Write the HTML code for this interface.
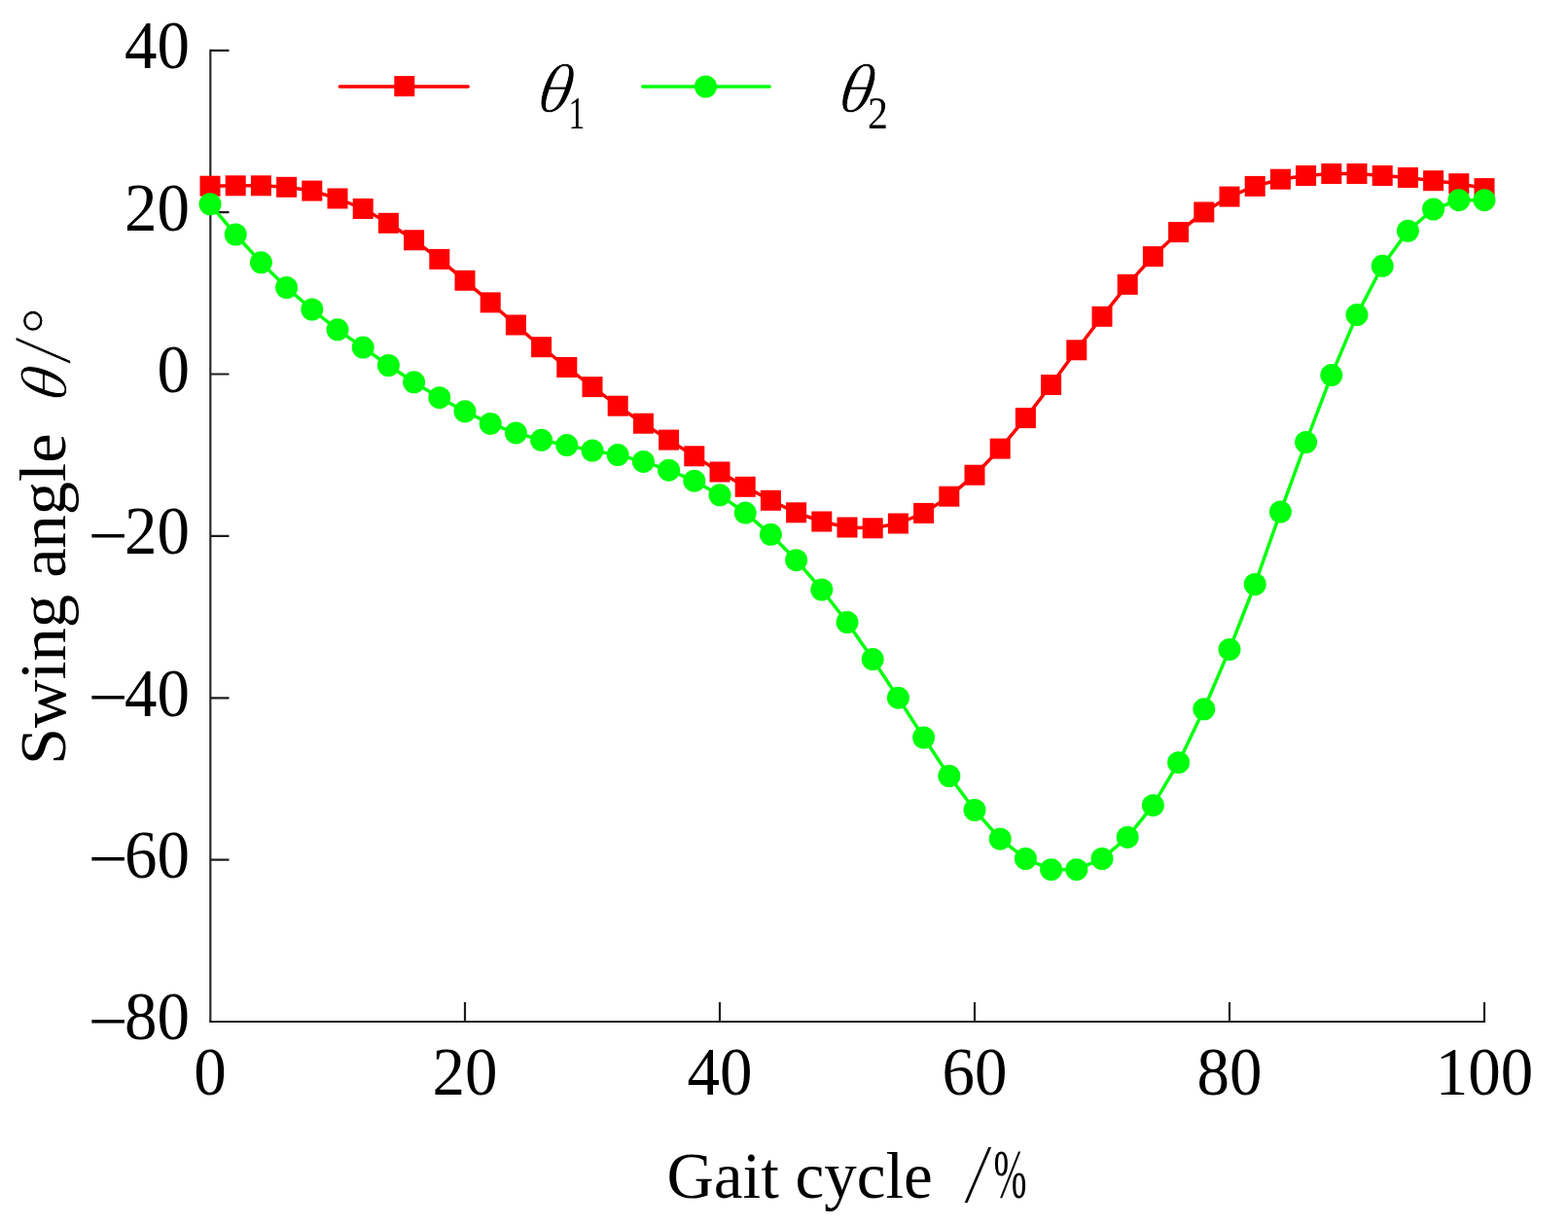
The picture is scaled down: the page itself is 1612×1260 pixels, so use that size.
<!DOCTYPE html><html><head><meta charset="utf-8"><title>Swing angle vs gait cycle</title><style>html,body{margin:0;padding:0;background:#fff;overflow:hidden;}svg{display:block;}text{font-family:"Liberation Serif","Times New Roman",serif;fill:#000;}</style></head><body>
<svg width="1612" height="1260" viewBox="0 0 1612 1260">
<rect width="1612" height="1260" fill="#fff"/>
<g>
<path d="M216.3 50.8V1050" fill="none" stroke="#2a2a2a" stroke-width="2.2"/>
<path d="M215.2 1050H1526V1030" fill="none" stroke="#1e1e1e" stroke-width="2.2" stroke-linejoin="miter"/>
<path d="M216.3 51.8H235.5M216.3 218.2H235.5M216.3 384.5H235.5M216.3 550.9H235.5M216.3 717.3H235.5M216.3 883.6H235.5M478.0 1050V1030M740.0 1050V1030M1002.0 1050V1030M1264.0 1050V1030" stroke="#1e1e1e" stroke-width="2.2" fill="none"/>
<text transform="translate(195 70.1) scale(1 1.035)" font-size="67" text-anchor="end">40</text>
<text transform="translate(195 236.5) scale(1 1.035)" font-size="67" text-anchor="end">20</text>
<text transform="translate(195 402.8) scale(1 1.035)" font-size="67" text-anchor="end">0</text>
<text transform="translate(195 569.2) scale(1 1.035)" font-size="67" text-anchor="end">20</text>
<text transform="translate(90.9 572.5) scale(1.077 1)" font-size="67">−</text>
<text transform="translate(195 735.6) scale(1 1.035)" font-size="67" text-anchor="end">40</text>
<text transform="translate(90.9 738.9) scale(1.077 1)" font-size="67">−</text>
<text transform="translate(195 901.9) scale(1 1.035)" font-size="67" text-anchor="end">60</text>
<text transform="translate(90.9 905.2) scale(1.077 1)" font-size="67">−</text>
<text transform="translate(195 1068.3) scale(1 1.035)" font-size="67" text-anchor="end">80</text>
<text transform="translate(90.9 1071.6) scale(1.077 1)" font-size="67">−</text>
<text transform="translate(216.0 1124.5) scale(1 1.035)" font-size="67" text-anchor="middle">0</text>
<text transform="translate(478.0 1124.5) scale(1 1.035)" font-size="67" text-anchor="middle">20</text>
<text transform="translate(740.0 1124.5) scale(1 1.035)" font-size="67" text-anchor="middle">40</text>
<text transform="translate(1002.0 1124.5) scale(1 1.035)" font-size="67" text-anchor="middle">60</text>
<text transform="translate(1264.0 1124.5) scale(1 1.035)" font-size="67" text-anchor="middle">80</text>
<text transform="translate(1526.0 1124.5) scale(1 1.035)" font-size="67" text-anchor="middle">100</text>
<text x="685.4" y="1231" font-size="67">Gait cycle</text>
<text transform="translate(990.8 1235.6) skewX(-5)" font-size="87.5" stroke="#fff" stroke-width="1.2">/</text>
<text transform="translate(1021.5 1231.2) scale(0.61 1.07)" font-size="67">%</text>
<g transform="translate(67.2 0) rotate(-90)"><text x="-786" y="0" font-size="68.5">Swing angle</text><text transform="translate(-414.1 0.3) skewX(-10) scale(0.98)" font-size="68.5" font-style="italic" stroke="#fff" stroke-width="0.8">θ</text><text transform="translate(-374.4 4.3) skewX(-5)" font-size="85" stroke="#fff" stroke-width="1.2">/</text><text x="-343.6" y="1.5" font-size="68.5" stroke="#fff" stroke-width="0.8">°</text></g>
<polyline points="216.0,191.2 242.2,190.8 268.4,190.8 294.6,192.3 320.8,196.1 347.0,204.0 373.2,214.5 399.4,229.3 425.6,246.8 451.8,266.4 478.0,288.3 504.2,310.9 530.4,334.0 556.6,356.7 582.8,377.5 609.0,397.6 635.2,417.2 661.4,435.2 687.6,452.1 713.8,468.8 740.0,485.0 766.2,500.3 792.4,514.3 818.6,526.8 844.8,536.0 871.0,542.0 897.2,542.8 923.4,538.0 949.6,527.4 975.8,510.2 1002.0,488.2 1028.2,461.1 1054.4,429.6 1080.6,395.5 1106.8,359.8 1133.0,325.3 1159.2,292.4 1185.4,263.6 1211.6,238.6 1237.8,218.0 1264.0,202.1 1290.2,191.4 1316.4,184.2 1342.6,180.5 1368.8,178.5 1395.0,178.5 1421.2,180.5 1447.4,182.5 1473.6,185.7 1499.8,188.7 1526.0,193.6" fill="none" stroke="#ff0000" stroke-width="3.5" stroke-linejoin="round" stroke-linecap="round"/>
<g fill="#ff0000"><rect x="205.50" y="180.70" width="21.0" height="21.0"/><rect x="231.70" y="180.30" width="21.0" height="21.0"/><rect x="257.90" y="180.30" width="21.0" height="21.0"/><rect x="284.10" y="181.80" width="21.0" height="21.0"/><rect x="310.30" y="185.60" width="21.0" height="21.0"/><rect x="336.50" y="193.50" width="21.0" height="21.0"/><rect x="362.70" y="204.00" width="21.0" height="21.0"/><rect x="388.90" y="218.80" width="21.0" height="21.0"/><rect x="415.10" y="236.30" width="21.0" height="21.0"/><rect x="441.30" y="255.90" width="21.0" height="21.0"/><rect x="467.50" y="277.80" width="21.0" height="21.0"/><rect x="493.70" y="300.40" width="21.0" height="21.0"/><rect x="519.90" y="323.50" width="21.0" height="21.0"/><rect x="546.10" y="346.20" width="21.0" height="21.0"/><rect x="572.30" y="367.00" width="21.0" height="21.0"/><rect x="598.50" y="387.10" width="21.0" height="21.0"/><rect x="624.70" y="406.70" width="21.0" height="21.0"/><rect x="650.90" y="424.70" width="21.0" height="21.0"/><rect x="677.10" y="441.60" width="21.0" height="21.0"/><rect x="703.30" y="458.30" width="21.0" height="21.0"/><rect x="729.50" y="474.50" width="21.0" height="21.0"/><rect x="755.70" y="489.80" width="21.0" height="21.0"/><rect x="781.90" y="503.80" width="21.0" height="21.0"/><rect x="808.10" y="516.30" width="21.0" height="21.0"/><rect x="834.30" y="525.50" width="21.0" height="21.0"/><rect x="860.50" y="531.50" width="21.0" height="21.0"/><rect x="886.70" y="532.30" width="21.0" height="21.0"/><rect x="912.90" y="527.50" width="21.0" height="21.0"/><rect x="939.10" y="516.90" width="21.0" height="21.0"/><rect x="965.30" y="499.70" width="21.0" height="21.0"/><rect x="991.50" y="477.70" width="21.0" height="21.0"/><rect x="1017.70" y="450.60" width="21.0" height="21.0"/><rect x="1043.90" y="419.10" width="21.0" height="21.0"/><rect x="1070.10" y="385.00" width="21.0" height="21.0"/><rect x="1096.30" y="349.30" width="21.0" height="21.0"/><rect x="1122.50" y="314.80" width="21.0" height="21.0"/><rect x="1148.70" y="281.90" width="21.0" height="21.0"/><rect x="1174.90" y="253.10" width="21.0" height="21.0"/><rect x="1201.10" y="228.10" width="21.0" height="21.0"/><rect x="1227.30" y="207.50" width="21.0" height="21.0"/><rect x="1253.50" y="191.60" width="21.0" height="21.0"/><rect x="1279.70" y="180.90" width="21.0" height="21.0"/><rect x="1305.90" y="173.70" width="21.0" height="21.0"/><rect x="1332.10" y="170.00" width="21.0" height="21.0"/><rect x="1358.30" y="168.00" width="21.0" height="21.0"/><rect x="1384.50" y="168.00" width="21.0" height="21.0"/><rect x="1410.70" y="170.00" width="21.0" height="21.0"/><rect x="1436.90" y="172.00" width="21.0" height="21.0"/><rect x="1463.10" y="175.20" width="21.0" height="21.0"/><rect x="1489.30" y="178.20" width="21.0" height="21.0"/><rect x="1515.50" y="183.10" width="21.0" height="21.0"/></g>
<polyline points="216.0,209.8 242.2,241.0 268.4,269.8 294.6,295.6 320.8,318.0 347.0,338.8 373.2,357.1 399.4,375.5 425.6,392.8 451.8,408.7 478.0,422.8 504.2,435.4 530.4,444.9 556.6,452.3 582.8,457.6 609.0,463.0 635.2,467.6 661.4,474.4 687.6,483.2 713.8,494.2 740.0,508.8 766.2,527.1 792.4,549.3 818.6,575.7 844.8,606.0 871.0,639.6 897.2,677.6 923.4,717.2 949.6,758.0 975.8,797.5 1002.0,832.5 1028.2,862.2 1054.4,882.5 1080.6,893.7 1106.8,893.7 1133.0,882.5 1159.2,860.4 1185.4,827.7 1211.6,783.7 1237.8,728.8 1264.0,667.4 1290.2,600.5 1316.4,526.1 1342.6,454.5 1368.8,385.6 1395.0,323.6 1421.2,273.3 1447.4,237.3 1473.6,215.0 1499.8,205.7 1526.0,205.7" fill="none" stroke="#00ff0c" stroke-width="3.5" stroke-linejoin="round" stroke-linecap="round"/>
<g fill="#00ff0c"><circle cx="216.0" cy="209.8" r="11.5"/><circle cx="242.2" cy="241.0" r="11.5"/><circle cx="268.4" cy="269.8" r="11.5"/><circle cx="294.6" cy="295.6" r="11.5"/><circle cx="320.8" cy="318.0" r="11.5"/><circle cx="347.0" cy="338.8" r="11.5"/><circle cx="373.2" cy="357.1" r="11.5"/><circle cx="399.4" cy="375.5" r="11.5"/><circle cx="425.6" cy="392.8" r="11.5"/><circle cx="451.8" cy="408.7" r="11.5"/><circle cx="478.0" cy="422.8" r="11.5"/><circle cx="504.2" cy="435.4" r="11.5"/><circle cx="530.4" cy="444.9" r="11.5"/><circle cx="556.6" cy="452.3" r="11.5"/><circle cx="582.8" cy="457.6" r="11.5"/><circle cx="609.0" cy="463.0" r="11.5"/><circle cx="635.2" cy="467.6" r="11.5"/><circle cx="661.4" cy="474.4" r="11.5"/><circle cx="687.6" cy="483.2" r="11.5"/><circle cx="713.8" cy="494.2" r="11.5"/><circle cx="740.0" cy="508.8" r="11.5"/><circle cx="766.2" cy="527.1" r="11.5"/><circle cx="792.4" cy="549.3" r="11.5"/><circle cx="818.6" cy="575.7" r="11.5"/><circle cx="844.8" cy="606.0" r="11.5"/><circle cx="871.0" cy="639.6" r="11.5"/><circle cx="897.2" cy="677.6" r="11.5"/><circle cx="923.4" cy="717.2" r="11.5"/><circle cx="949.6" cy="758.0" r="11.5"/><circle cx="975.8" cy="797.5" r="11.5"/><circle cx="1002.0" cy="832.5" r="11.5"/><circle cx="1028.2" cy="862.2" r="11.5"/><circle cx="1054.4" cy="882.5" r="11.5"/><circle cx="1080.6" cy="893.7" r="11.5"/><circle cx="1106.8" cy="893.7" r="11.5"/><circle cx="1133.0" cy="882.5" r="11.5"/><circle cx="1159.2" cy="860.4" r="11.5"/><circle cx="1185.4" cy="827.7" r="11.5"/><circle cx="1211.6" cy="783.7" r="11.5"/><circle cx="1237.8" cy="728.8" r="11.5"/><circle cx="1264.0" cy="667.4" r="11.5"/><circle cx="1290.2" cy="600.5" r="11.5"/><circle cx="1316.4" cy="526.1" r="11.5"/><circle cx="1342.6" cy="454.5" r="11.5"/><circle cx="1368.8" cy="385.6" r="11.5"/><circle cx="1395.0" cy="323.6" r="11.5"/><circle cx="1421.2" cy="273.3" r="11.5"/><circle cx="1447.4" cy="237.3" r="11.5"/><circle cx="1473.6" cy="215.0" r="11.5"/><circle cx="1499.8" cy="205.7" r="11.5"/><circle cx="1526.0" cy="205.7" r="11.5"/></g>
<path d="M349.3 89H481.2" stroke="#ff0000" stroke-width="3.5" stroke-linecap="round"/>
<rect x="405.3" y="78.1" width="21.0" height="21.0" fill="#ff0000"/>
<path d="M660.7 89H791.2" stroke="#00ff0c" stroke-width="3.5" stroke-linecap="round"/>
<circle cx="725.5" cy="89" r="11.5" fill="#00ff0c"/>
<text transform="translate(550.5 115) skewX(-10)" font-size="71" font-style="italic" stroke="#fff" stroke-width="0.8">θ</text>
<text transform="translate(584.5 132.3) scale(0.72 1.0)" font-size="46.5">1</text>
<text transform="translate(860.3 115) skewX(-10)" font-size="71" font-style="italic" stroke="#fff" stroke-width="0.8">θ</text>
<text transform="translate(892.0 132.3) scale(0.9 1.0)" font-size="46.5">2</text>
</g></svg></body></html>
